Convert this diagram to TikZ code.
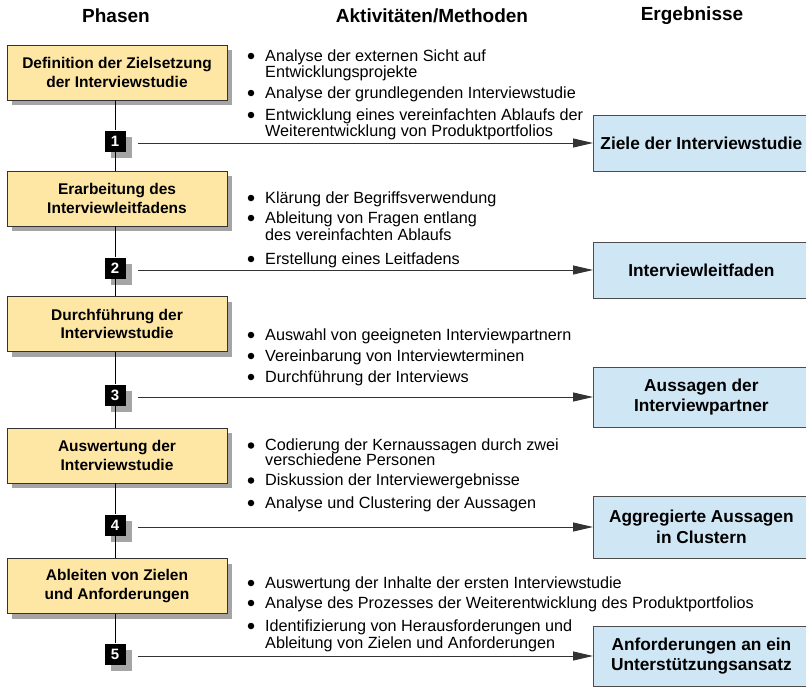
\documentclass[tikz,border=0pt]{standalone}
\usepackage{fontspec}
\setmainfont{Liberation Sans}
\usetikzlibrary{arrows.meta,shadows}
\definecolor{phasefill}{RGB}{254,230,165}
\definecolor{resfill}{RGB}{207,230,245}
\definecolor{shadowgray}{RGB}{165,165,165}
\tikzset{
  phasebox/.style={draw=black!80, line width=0.8pt, fill=phasefill, minimum width=220pt, minimum height=55pt,
    align=center, font=\bfseries\fontsize{15.5}{18.5}\selectfont, inner sep=0pt,
    drop shadow={shadow xshift=5pt, shadow yshift=-5pt, fill=shadowgray, opacity=1}},
  numbox/.style={fill=black, text=white, minimum width=21pt, minimum height=21pt, inner sep=0pt,
    font=\bfseries\fontsize{15}{15}\selectfont,
    drop shadow={shadow xshift=6pt, shadow yshift=-6pt, fill=shadowgray, opacity=1}},
  resbox/.style={draw=black!70, line width=0.8pt, fill=resfill, minimum width=216pt, minimum height=56pt,
    align=center, font=\bfseries\fontsize{17.3}{20.5}\selectfont, inner sep=0pt, anchor=west},
  header/.style={font=\bfseries\fontsize{19}{22}\selectfont},
  item/.style={anchor=base west, inner sep=0pt, font=\fontsize{16.2}{19}\selectfont},
  dot/.style={circle, fill=black, minimum size=6.5pt, inner sep=0pt},
  link/.style={draw=black, line width=1pt},
  flow/.style={draw=black!80, line width=1pt, -{Triangle[length=20pt,width=9pt]}}
}
\begin{document}
\begin{tikzpicture}[x=1pt,y=-1pt]
\useasboundingbox (0,0) rectangle (806,688);

% column headings
\node[header] (h1) at (116,16) {Phasen};
\node[header] (h2) at (432,16) {Aktivitäten/Methoden};
\node[header] (h3) at (692,16) {Ergebnisse};

% phases
\node[phasebox] (p1) at (117,72.5) {Definition der Zielsetzung\\der Interviewstudie};
\node[phasebox] (p2) at (117,198.5) {Erarbeitung des\\Interviewleitfadens};
\node[phasebox] (p3) at (117,324) {Durchführung der\\Interviewstudie};
\node[phasebox] (p4) at (117,455.5) {Auswertung der\\Interviewstudie};
\node[phasebox] (p5) at (117,586) {Ableiten von Zielen\\und Anforderungen};

% step numbers
\node[numbox] (n1) at (115,141) {1};
\node[numbox] (n2) at (115,268) {2};
\node[numbox] (n3) at (115,395) {3};
\node[numbox] (n4) at (115,525) {4};
\node[numbox] (n5) at (115,654) {5};

% results
\node[resbox] (r1) at (593,143) {Ziele der Interviewstudie};
\node[resbox] (r2) at (593,270) {Interviewleitfaden};
\node[resbox, minimum height=60pt] (r3) at (593,397) {Aussagen der\\Interviewpartner};
\node[resbox, minimum height=62pt] (r4) at (593,527) {Aggregierte Aussagen\\in Clustern};
\node[resbox, minimum height=60pt] (r5) at (593,656) {Anforderungen an ein\\Unterstützungsansatz};

% vertical flow of phases
\draw[link] (p1.south -| n1) -- (n1.north);
\draw[link] (n1.south) -- (p2.north -| n1);
\draw[link] (p2.south -| n2) -- (n2.north);
\draw[link] (n2.south) -- (p3.north -| n2);
\draw[link] (p3.south -| n3) -- (n3.north);
\draw[link] (n3.south) -- (p4.north -| n3);
\draw[link] (p4.south -| n4) -- (n4.north);
\draw[link] (n4.south) -- (p5.north -| n4);
\draw[link] (p5.south -| n5) -- (n5.north);

% arrows to results, leaving just below the centre of each number
\foreach \i in {1,...,5}{
  \coordinate (s\i) at ([yshift=-2pt]n\i.east);
  \draw[flow, shorten <=12pt] (s\i) -- (r\i.west |- s\i);
}

% activities: \bul starts a bulleted item, \cont continues it on the next line
\newcommand{\bul}[3]{\node[dot] (d#1) at (251,#2-5) {}; \node[item] (t#1) at (265,#2) {#3};}
\newcommand{\cont}[3]{\node[item] (t#1) at (265,#2) {#3};}

\bul{a1}{61}{Analyse der externen Sicht auf}
\cont{a2}{77}{Entwicklungsprojekte}
\bul{a3}{98}{Analyse der grundlegenden Interviewstudie}
\bul{a4}{120}{Entwicklung eines vereinfachten Ablaufs der}
\cont{a5}{136}{Weiterentwicklung von Produktportfolios}

\bul{b1}{203}{Klärung der Begriffsverwendung}
\bul{b2}{223}{Ableitung von Fragen entlang}
\cont{b3}{240}{des vereinfachten Ablaufs}
\bul{b4}{264}{Erstellung eines Leitfadens}

\bul{c1}{340}{Auswahl von geeigneten Interviewpartnern}
\bul{c2}{361}{Vereinbarung von Interviewterminen}
\bul{c3}{382}{Durchführung der Interviews}

\bul{e1}{450.5}{Codierung der Kernaussagen durch zwei}
\cont{e2}{465.5}{verschiedene Personen}
\bul{e3}{485.5}{Diskussion der Interviewergebnisse}
\bul{e4}{508}{Analyse und Clustering der Aussagen}

\bul{f1}{588}{Auswertung der Inhalte der ersten Interviewstudie}
\bul{f2}{608}{Analyse des Prozesses der Weiterentwicklung des Produktportfolios}
\bul{f3}{631}{Identifizierung von Herausforderungen und}
\cont{f4}{648}{Ableitung von Zielen und Anforderungen}
\end{tikzpicture}
\end{document}
